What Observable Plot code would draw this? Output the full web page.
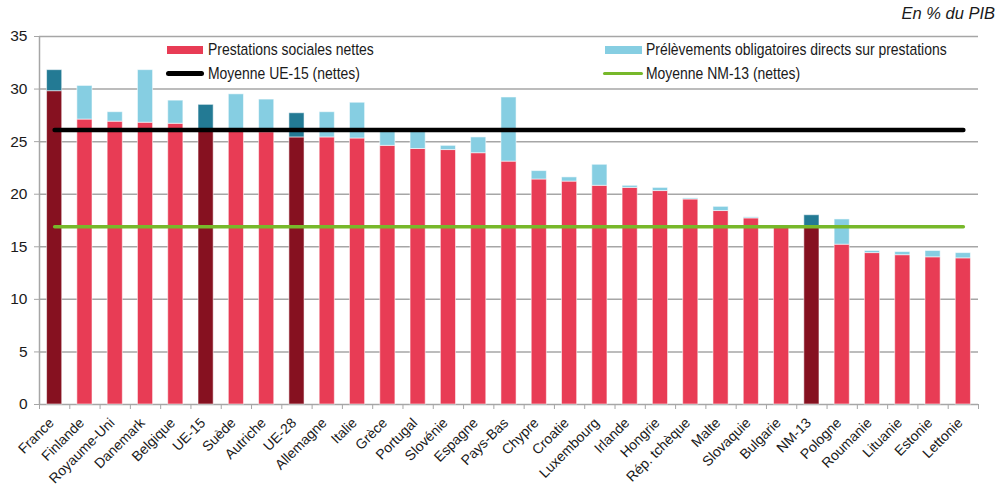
<!DOCTYPE html>
<html lang="fr">
<head>
<meta charset="utf-8">
<script src="https://cdn.jsdelivr.net/npm/d3@7"></script>
<script src="https://cdn.jsdelivr.net/npm/@observablehq/plot@0.6"></script>
<style>
  html, body { margin: 0; padding: 0; background: #fff; }
  #chart { position: relative; width: 1004px; height: 488px; overflow: hidden; font-family: "Liberation Sans", Arial, sans-serif; color: #1a1a1a; }
  #chart svg { position: absolute; left: 0; top: 0; }
  .unit { position: absolute; top: 4px; right: 9px; font-style: italic; font-size: 16.5px; }
  .leg-txt { position: absolute; font-size: 17px; line-height: 17px; white-space: nowrap; transform: scaleX(0.82); transform-origin: left center; }
  .sw-bar { position: absolute; height: 8px; }
  .sw-line { position: absolute; border-radius: 3px; }
</style>
</head>
<body>
<div id="chart">
  <div class="unit">En % du PIB</div>
</div>
<script>
// Prestations sociales nettes et prélèvements obligatoires directs, en % du PIB
const categories = ["France", "Finlande", "Royaume-Uni", "Danemark", "Belgique", "UE-15", "Suède", "Autriche", "UE-28", "Allemagne", "Italie", "Grèce", "Portugal", "Slovénie", "Espagne", "Pays-Bas", "Chypre", "Croatie", "Luxembourg", "Irlande", "Hongrie", "Rép. tchèque", "Malte", "Slovaquie", "Bulgarie", "NM-13", "Pologne", "Roumanie", "Lituanie", "Estonie", "Lettonie"];
const nettes = [29.8, 27.1, 26.9, 26.8, 26.7, 26.1, 26.2, 25.9, 25.4, 25.4, 25.3, 24.6, 24.3, 24.2, 23.9, 23.1, 21.4, 21.2, 20.8, 20.6, 20.3, 19.5, 18.4, 17.7, 16.8, 16.9, 15.2, 14.4, 14.2, 14.0, 13.9];
const prelevements = [2.0, 3.2, 0.9, 5.0, 2.2, 2.4, 3.3, 3.1, 2.3, 2.4, 3.4, 1.5, 1.8, 0.4, 1.5, 6.1, 0.8, 0.4, 2.0, 0.2, 0.3, 0.1, 0.4, 0.1, 0.0, 1.1, 2.4, 0.2, 0.3, 0.6, 0.5];
const agregats = ["France", "UE-15", "UE-28", "NM-13"];
const moyenneUE15 = 26.1;
const moyenneNM13 = 16.9;
const yTicks = [0, 5, 10, 15, 20, 25, 30, 35];

const series = [
  "Prestations sociales nettes",
  "Prélèvements obligatoires directs sur prestations",
  "Moyenne UE-15 (nettes)",
  "Moyenne NM-13 (nettes)"
];

const colors = {
  nettes: "#e83c55",
  nettesAgg: "#861120",
  prel: "#86cee2",
  prelAgg: "#237a94",
  ue15: "#000000",
  nm13: "#77b82a",
  grid: "#a6a6a6"
};

const rows = categories.map((pays, i) => ({
  pays,
  nettes: nettes[i],
  total: nettes[i] + prelevements[i],
  prel: prelevements[i],
  agg: agregats.includes(pays)
}));

const W = 1004, H = 488;
const mL = 39, mR = 26, mT = 36, mB = 84;
const step = (W - mL - mR) / categories.length;

const first = categories[0], last = categories[categories.length - 1];

const chart = Plot.plot({
  width: W,
  height: H,
  marginLeft: mL,
  marginRight: mR,
  marginTop: mT,
  marginBottom: mB,
  style: { fontFamily: "'Liberation Sans', Arial, sans-serif", fontSize: "14px", color: "#1a1a1a", background: "transparent", overflow: "visible" },
  x: { domain: categories, paddingInner: 0.5, paddingOuter: 0.25, align: 0.5, round: false, label: null },
  y: { domain: [0, 35], label: null },
  marks: [
    Plot.ruleY(yTicks, { stroke: colors.grid, strokeWidth: 1.5 }),
    Plot.ruleX([first], { dx: -step / 2, stroke: colors.grid, strokeWidth: 1.5 }),
    Plot.barY(rows, {
      x: "pays", y1: 0, y2: "nettes",
      fill: d => d.agg ? colors.nettesAgg : colors.nettes,
      stroke: "#ffffff", strokeOpacity: 0.55, strokeWidth: 1
    }),
    Plot.barY(rows.filter(d => d.prel > 0), {
      x: "pays", y1: "nettes", y2: "total",
      fill: d => d.agg ? colors.prelAgg : colors.prel,
      stroke: "#ffffff", strokeOpacity: 0.55, strokeWidth: 1
    }),
    Plot.line([{ pays: first, v: moyenneUE15 }, { pays: last, v: moyenneUE15 }], {
      x: "pays", y: "v", stroke: colors.ue15, strokeWidth: 4.5, strokeLinecap: "round"
    }),
    Plot.line([{ pays: first, v: moyenneNM13 }, { pays: last, v: moyenneNM13 }], {
      x: "pays", y: "v", stroke: colors.nm13, strokeWidth: 3.5, strokeLinecap: "round"
    }),
    Plot.axisY(yTicks, { tickSize: 5, tickPadding: 7, stroke: colors.grid, fill: "#1a1a1a", fontSize: 15.5 }),
    Plot.axisX(categories, { tickSize: 5, dx: step / 2, stroke: colors.grid, tickFormat: () => "" }),
    Plot.axisX([first], { tickSize: 5, dx: -step / 2, stroke: colors.grid, tickFormat: () => "" }),
    Plot.axisX(categories, { tickSize: 0, tickRotate: -45, tickPadding: 16, dx: -3, fill: "#1a1a1a", fontSize: 14 })
  ]
});

const root = document.getElementById("chart");
root.insertBefore(chart, root.firstChild);

// Legend drawn over the upper part of the plot area
const legend = [
  { kind: "bar", color: colors.nettes, x: 167, y: 46, w: 36, label: series[0], tx: 208, ty: 41 },
  { kind: "bar", color: colors.prel, x: 605, y: 46, w: 37, label: series[1], tx: 646, ty: 41 },
  { kind: "line", color: colors.ue15, x: 166, y: 71, w: 38, h: 4.5, label: series[2], tx: 208, ty: 65 },
  { kind: "line", color: colors.nm13, x: 603, y: 71.5, w: 40, h: 3.5, label: series[3], tx: 646, ty: 65 }
];
for (const item of legend) {
  const sw = document.createElement("div");
  sw.className = item.kind === "bar" ? "sw-bar" : "sw-line";
  sw.style.left = item.x + "px";
  sw.style.top = item.y + "px";
  sw.style.width = item.w + "px";
  if (item.h) sw.style.height = item.h + "px";
  sw.style.background = item.color;
  root.appendChild(sw);
  const t = document.createElement("div");
  t.className = "leg-txt";
  t.style.left = item.tx + "px";
  t.style.top = item.ty + "px";
  t.textContent = item.label;
  root.appendChild(t);
}
</script>
</body>
</html>
